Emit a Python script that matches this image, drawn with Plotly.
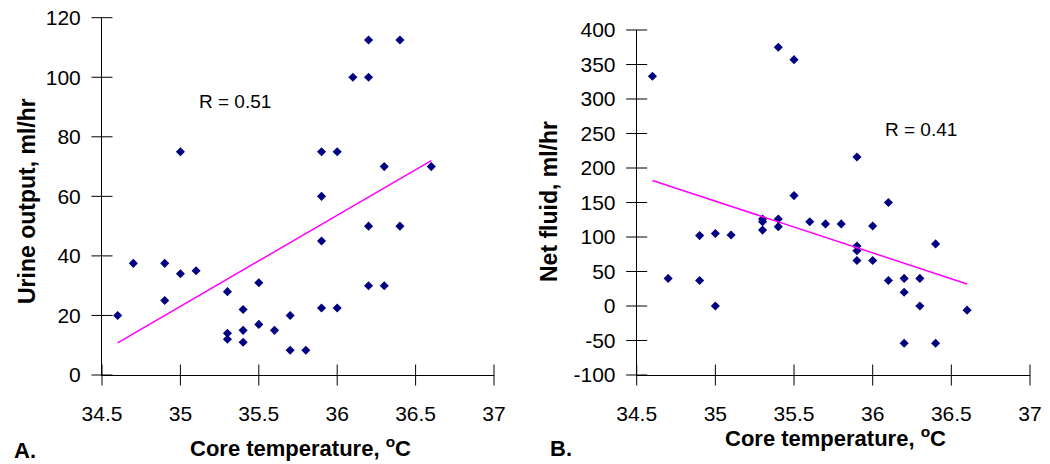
import plotly.graph_objects as go

# panel A - urine output vs core temperature
temp_a = [34.6, 34.7, 34.9, 34.9, 35.0, 35.0, 35.1, 35.3, 35.3, 35.3, 35.4, 35.4,
          35.4, 35.5, 35.5, 35.6, 35.7, 35.7, 35.8, 35.9, 35.9, 35.9, 35.9, 36.0,
          36.0, 36.1, 36.2, 36.2, 36.2, 36.2, 36.3, 36.3, 36.4, 36.4, 36.6]
urine = [20, 37.5, 37.5, 25, 34, 75, 35, 28, 14, 12, 22, 15,
         11, 31, 17, 15, 20, 8.3, 8.3, 75, 60, 45, 22.5, 75,
         22.5, 100, 112.5, 100, 50, 30, 70, 30, 112.5, 50, 70]
trend_a_x = [34.6, 36.6]
trend_a_y = [10.8, 72]

# panel B - net fluid vs core temperature
temp_b = [34.6, 34.7, 34.9, 34.9, 35.0, 35.0, 35.1, 35.3, 35.3, 35.3, 35.4, 35.4,
          35.4, 35.5, 35.5, 35.6, 35.7, 35.8, 35.9, 35.9, 35.9, 35.9, 36.0, 36.0,
          36.1, 36.1, 36.2, 36.2, 36.2, 36.3, 36.3, 36.4, 36.4, 36.6]
net_fluid = [333, 40, 102, 37, 105, 0, 103, 126, 122, 110, 375, 126,
             115, 357, 160, 122, 119, 119, 216, 87, 80, 66, 116, 66,
             150, 37, 40, 20, -54, 40, 0, 90, -54, -6]
trend_b_x = [34.6, 36.6]
trend_b_y = [182, 32]

x_ticks = [34.5, 35, 35.5, 36, 36.5, 37]
ya_ticks = [0, 20, 40, 60, 80, 100, 120]
yb_ticks = [-100, -50, 0, 50, 100, 150, 200, 250, 300, 350, 400]

W, H = 1050, 464
FONT = "Liberation Sans, Arial, sans-serif"
navy = "#000080"
magenta = "#FF00FF"

def px(x):
    return x / W

def py(y):
    return 1 - y / H

def cross_ticks(xa, ya, xr, yr, yticks):
    # axis ticks in the original cross the axis line, so draw them as short line markers
    tick = dict(color="black", line=dict(color="black", width=1), size=15)
    fig.add_trace(go.Scatter(x=x_ticks, y=[yr[0]] * len(x_ticks), mode="markers",
                             marker=dict(symbol="line-ns", **tick), cliponaxis=False,
                             xaxis=xa, yaxis=ya, showlegend=False, hoverinfo="skip"))
    fig.add_trace(go.Scatter(x=[xr[0]] * len(yticks), y=yticks, mode="markers",
                             marker=dict(symbol="line-ew", **tick), cliponaxis=False,
                             xaxis=xa, yaxis=ya, showlegend=False, hoverinfo="skip"))

fig = go.Figure()
fig.add_trace(go.Scatter(x=temp_a, y=urine, mode="markers",
                         marker=dict(symbol="diamond", size=7, color=navy),
                         xaxis="x", yaxis="y", showlegend=False))
fig.add_trace(go.Scatter(x=trend_a_x, y=trend_a_y, mode="lines",
                         line=dict(color=magenta, width=1.5),
                         xaxis="x", yaxis="y", showlegend=False))
fig.add_trace(go.Scatter(x=temp_b, y=net_fluid, mode="markers",
                         marker=dict(symbol="diamond", size=7, color=navy),
                         xaxis="x2", yaxis="y2", showlegend=False))
fig.add_trace(go.Scatter(x=trend_b_x, y=trend_b_y, mode="lines",
                         line=dict(color=magenta, width=1.5),
                         xaxis="x2", yaxis="y2", showlegend=False))
cross_ticks("x", "y", [34.5, 37], [0, 120], ya_ticks)
cross_ticks("x2", "y2", [34.5, 37], [-100, 400], yb_ticks)

dom_ax = [px(102), px(494)]
dom_ay = [py(375), py(17.7)]
dom_bx = [px(636.7), px(1030)]
dom_by = [py(375), py(30)]

tick_font = dict(family=FONT, size=21, color="black")
common = dict(showgrid=False, zeroline=False, showline=True, linecolor="black", linewidth=1,
              ticks="outside", tickcolor="rgba(0,0,0,0)", tickfont=tick_font,
              tickmode="array", automargin=False)

fig.update_layout(
    width=W, height=H,
    margin=dict(l=0, r=0, t=0, b=0),
    plot_bgcolor="white", paper_bgcolor="white",
    xaxis=dict(domain=dom_ax, range=[34.5, 37], anchor="y", tickvals=x_ticks, ticklen=20,
               ticktext=[str(v) for v in x_ticks], **common),
    yaxis=dict(domain=dom_ay, range=[0, 120], anchor="x", tickvals=ya_ticks, ticklen=16,
               ticktext=[str(v) for v in ya_ticks], **common),
    xaxis2=dict(domain=dom_bx, range=[34.5, 37], anchor="y2", tickvals=x_ticks, ticklen=20,
                ticktext=[str(v) for v in x_ticks], **common),
    yaxis2=dict(domain=dom_by, range=[-100, 400], anchor="x2", tickvals=yb_ticks, ticklen=16,
                ticktext=[str(v) for v in yb_ticks], **common),
)

title_font = dict(family=FONT, size=22, color="black")
ann = dict(xref="paper", yref="paper", showarrow=False, xanchor="center", yanchor="middle")
xtitle = "<b>Core temperature, <sup>o</sup>C</b>"
fig.add_annotation(x=px(300), y=py(447), text=xtitle, font=title_font, **ann)
fig.add_annotation(x=px(835), y=py(437), text=xtitle, font=title_font, **ann)
fig.add_annotation(x=px(27), y=py(201), text="<b>Urine output, ml/hr</b>", textangle=-90,
                   font=dict(family=FONT, size=23, color="black"), **ann)
fig.add_annotation(x=px(549), y=py(202), text="<b>Net fluid, ml/hr</b>", textangle=-90,
                   font=dict(family=FONT, size=23, color="black"), **ann)
fig.add_annotation(x=px(25), y=py(450), text="<b>A.</b>",
                   font=dict(family=FONT, size=22, color="black"), **ann)
fig.add_annotation(x=px(561), y=py(448), text="<b>B.</b>",
                   font=dict(family=FONT, size=22, color="black"), **ann)
fig.add_annotation(x=35.35, y=92, xref="x", yref="y", text="R = 0.51", showarrow=False,
                   font=dict(family=FONT, size=19, color="black"))
fig.add_annotation(x=36.31, y=256, xref="x2", yref="y2", text="R = 0.41", showarrow=False,
                   font=dict(family=FONT, size=19, color="black"))

# the page body has a default 8px margin; drop it so the figure sits at 0,0
fig.write_html("out.html", config={"displayModeBar": False},
               post_script="document.body.style.margin='0px';")
